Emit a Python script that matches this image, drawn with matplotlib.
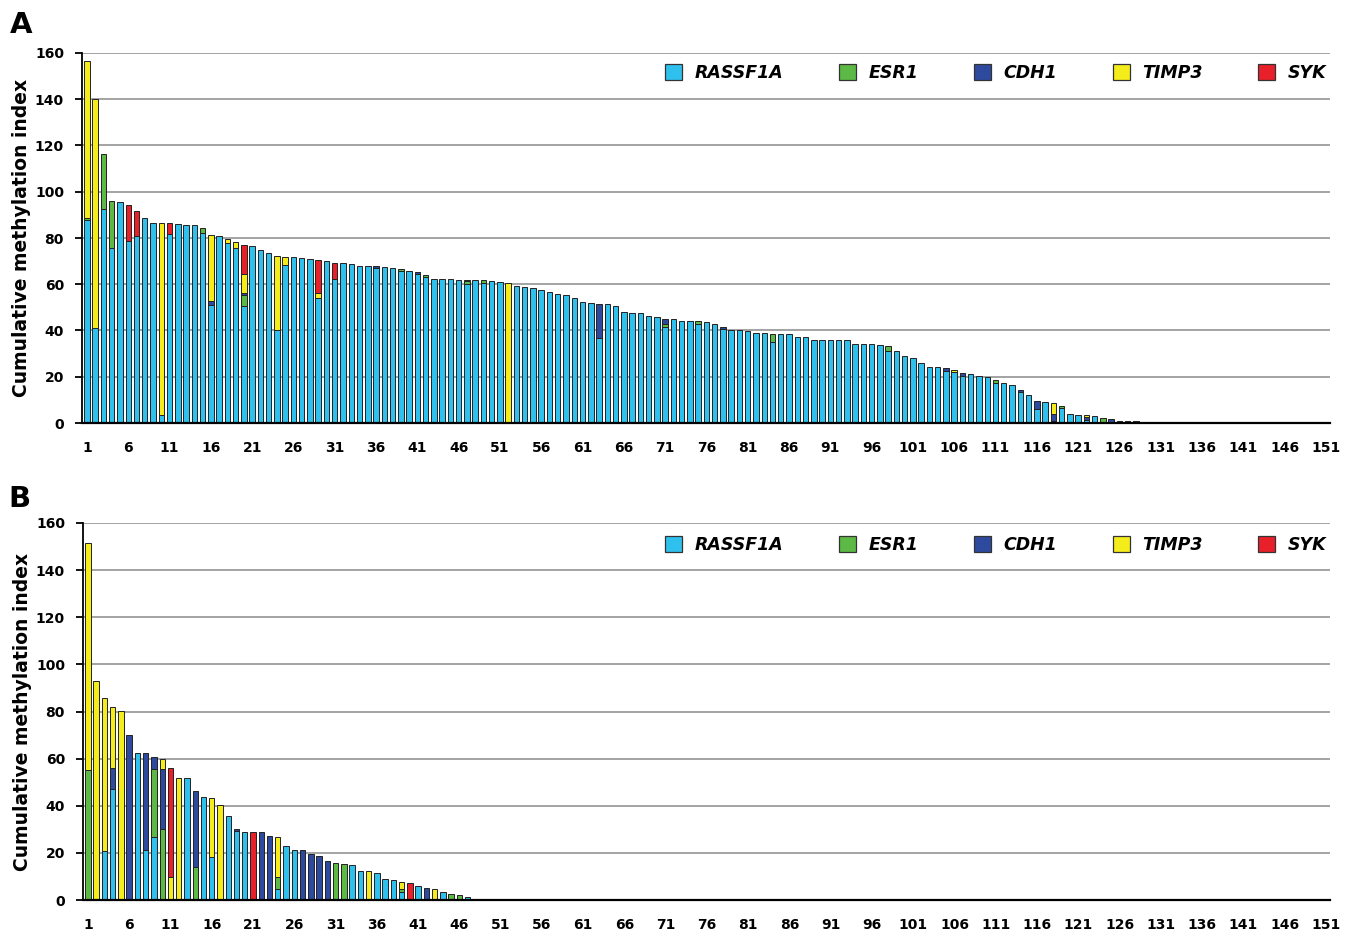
import numpy as np
import matplotlib
matplotlib.use("Agg")
import matplotlib.pyplot as plt
from matplotlib.patches import Patch

N = 151
genes = ["RASSF1A", "ESR1", "CDH1", "TIMP3", "SYK"]
colors = ["#30C0EE", "#5DB946", "#2E4A9E", "#F5EC1B", "#E8202A"]
x_ticks = list(range(1, 152, 5))
y_ticks = list(range(0, 161, 20))
panel_labels = ["A", "B"]
y_title = "Cumulative methylation index"

# ---------------- Panel A (samples 1..129, rest are 0) ----------------
a_rassf1a = [87.6, 41.0, 92.4, 75.8, 95.4, 78.7, 80.9, 88.8, 86.5, 3.6,
             81.6, 86.0, 85.6, 85.5, 82.0, 50.9, 81.0, 77.8, 75.8, 50.6,
             76.5, 74.7, 73.4, 40.4, 68.2, 71.7, 71.4, 70.8, 54.0, 69.9,
             62.4, 69.0, 68.6, 68.0, 67.9, 67.0, 67.3, 66.9, 65.7, 65.6,
             64.3, 63.1, 62.4, 62.4, 62.1, 61.9, 60.2, 61.7, 60.4, 61.3,
             61.1, 0.0, 59.4, 58.6, 58.4, 57.4, 56.7, 55.9, 55.3, 54.1,
             52.4, 51.9, 36.7, 51.4, 50.4, 48.0, 47.4, 47.5, 46.2, 46.0,
             41.6, 45.0, 44.3, 44.0, 42.6, 43.5, 42.9, 40.7, 40.1, 40.1,
             39.7, 39.0, 39.0, 35.2, 38.4, 38.4, 37.4, 37.4, 36.1, 35.8,
             35.8, 35.7, 35.7, 34.2, 34.1, 34.0, 33.8, 31.2, 31.2, 29.1,
             28.2, 25.9, 24.3, 24.0, 22.5, 22.0, 20.4, 21.3, 20.3, 20.0,
             17.5, 17.2, 16.6, 13.4, 12.1, 5.9, 8.9, 0.0, 6.4, 4.0,
             3.6, 1.5, 3.0, 0.0, 0.0, 0.0, 0.0, 0.0, 0.6]
a_esr1 = [1.2, 0, 24.0, 20.0, 0, 0, 0, 0, 0, 0,
          0, 0, 0, 0, 2.5, 0, 0, 0, 0, 4.6,
          0, 0, 0, 0, 0, 0, 0, 0, 0, 0,
          0, 0, 0, 0, 0, 0, 0, 0, 1.0, 0,
          0, 1.0, 0, 0, 0, 0, 1.0, 0, 1.3, 0,
          0, 0, 0, 0, 0, 0, 0, 0, 0, 0,
          0, 0, 0, 0, 0, 0, 0, 0, 0, 0,
          1.4, 0, 0, 0, 1.4, 0, 0, 0, 0, 0,
          0, 0, 0, 3.2, 0, 0, 0, 0, 0, 0,
          0, 0, 0, 0, 0, 0, 0, 2.3, 0, 0,
          0, 0, 0, 0, 0, 0, 0, 0, 0, 0,
          1.0, 0, 0, 0, 0, 0, 0, 1.0, 0.9, 0,
          0, 0, 0, 2.2, 0, 0, 0, 0, 0]
a_cdh1 = [0, 0, 0, 0, 0, 0, 0, 0, 0, 0,
          0, 0, 0, 0, 0, 1.9, 0, 0, 0, 1.2,
          0, 0, 0, 0, 0, 0, 0, 0, 0, 0,
          0, 0, 0, 0, 0, 0.7, 0, 0, 0, 0,
          0.8, 0, 0, 0, 0, 0, 0.7, 0, 0, 0,
          0, 0, 0, 0, 0, 0, 0, 0, 0, 0,
          0, 0, 14.7, 0, 0, 0, 0, 0, 0, 0,
          2.0, 0, 0, 0, 0, 0, 0, 0.6, 0, 0,
          0, 0, 0, 0, 0, 0, 0, 0, 0, 0,
          0, 0, 0, 0, 0, 0, 0, 0, 0, 0,
          0, 0, 0, 0, 1.2, 0, 1.2, 0, 0, 0,
          0, 0, 0, 1.0, 0, 3.7, 0, 3.0, 0, 0,
          0, 0.9, 0, 0, 1.9, 0.7, 0.7, 0.7, 0]
a_timp3 = [67.6, 99.1, 0, 0, 0, 0, 0, 0, 0, 82.9,
           0, 0, 0, 0, 0, 28.5, 0, 1.9, 2.5, 7.9,
           0, 0, 0, 31.7, 3.7, 0, 0, 0, 2.2, 0,
           0, 0, 0, 0, 0, 0, 0, 0, 0, 0,
           0, 0, 0, 0, 0, 0, 0, 0, 0, 0,
           0, 60.6, 0, 0, 0, 0, 0, 0, 0, 0,
           0, 0, 0, 0, 0, 0, 0, 0, 0, 0,
           0, 0, 0, 0, 0, 0, 0, 0, 0, 0,
           0, 0, 0, 0, 0, 0, 0, 0, 0, 0,
           0, 0, 0, 0, 0, 0, 0, 0, 0, 0,
           0, 0, 0, 0, 0, 1.0, 0, 0, 0, 0,
           0, 0, 0, 0, 0, 0, 0, 4.6, 0, 0,
           0, 1.0, 0, 0, 0, 0, 0, 0, 0]
a_syk = [0, 0, 0, 0, 0, 15.4, 10.6, 0, 0, 0,
         4.9, 0, 0, 0, 0, 0, 0, 0, 0, 12.8,
         0, 0, 0, 0, 0, 0, 0, 0, 14.4, 0,
         6.8]

# ---------------- Panel B (samples 1..49, rest are 0) ----------------
b_rassf1a = [0, 0, 20.8, 46.9, 0, 0, 62.5, 21.2, 26.6, 0,
             0, 0, 51.9, 0, 43.7, 18.1, 0, 35.5, 29.4, 29.0,
             0, 0, 0, 4.7, 22.9, 21.3, 0, 0, 0, 0,
             0, 0, 14.7, 12.5, 0, 11.4, 9.1, 8.5, 3.6, 0,
             5.8, 0, 0, 3.3, 0, 0, 1.1, 0, 0.4]
b_esr1 = [55.1, 0, 0, 0, 0, 0, 0, 0, 28.8, 30.0,
          0, 0, 0, 14.1, 0, 0, 0, 0, 0, 0,
          0, 0, 0, 5.2, 0, 0, 0, 0, 0, 0,
          15.8, 15.4, 0, 0, 0, 0, 0, 0, 1.2, 0,
          0, 0, 0, 0, 2.6, 2.1, 0, 0, 0]
b_cdh1 = [0, 0, 0, 9.2, 0, 70.2, 0, 41.3, 5.4, 25.4,
          0, 0, 0, 32.1, 0, 0, 0, 0, 0.7, 0,
          0, 28.8, 27.3, 0, 0, 0, 21.1, 19.6, 18.5, 16.5,
          0, 0, 0, 0, 0, 0, 0, 0, 0, 0,
          0, 5.1, 0, 0, 0, 0, 0, 0.6, 0]
b_timp3 = [96.6, 92.9, 65.0, 25.9, 80.4, 0, 0, 0, 0, 4.4,
           9.9, 51.9, 0, 0, 0, 25.3, 40.4, 0, 0, 0,
           0, 0, 0, 16.8, 0, 0, 0, 0, 0, 0,
           0, 0, 0, 0, 12.5, 0, 0, 0, 2.9, 0,
           0, 0, 4.8, 0, 0, 0, 0, 0, 0]
b_syk = [0, 0, 0, 0, 0, 0, 0, 0, 0, 0,
         46.2, 0, 0, 0, 0, 0, 0, 0, 0, 0,
         28.9, 0, 0, 0, 0, 0, 0, 0, 0, 0,
         0, 0, 0, 0, 0, 0, 0, 0, 0, 7.1]


def pad(v):
    v = np.asarray(v, dtype=float)
    return np.concatenate([v, np.zeros(N - len(v))])


W, H = 1352, 930
fig = plt.figure(figsize=(W / 100, H / 100), dpi=100)
axA = fig.add_axes([82 / W, 1 - 423 / H, 1248 / W, 370 / H])
axB = fig.add_axes([83 / W, 1 - 900 / H, 1247 / W, 377 / H])

FONT = "DejaVu Sans"


def draw(ax, series, legend_y):
    x = np.arange(1, N + 1)
    bottom = np.zeros(N)
    for vals, c in zip(series, colors):
        v = pad(vals)
        m = v > 0
        ax.bar(x[m], v[m], bottom=bottom[m], width=0.66, color=c,
               edgecolor="#222222", linewidth=0.7, zorder=3)
        bottom += v
    ax.set_xlim(0.4, 151.5)
    ax.set_ylim(0, 160)
    ax.set_yticks(y_ticks)
    ax.set_xticks(x_ticks)
    ax.yaxis.grid(True, color="#8a8a8a", linewidth=1.1, zorder=0)
    ax.set_axisbelow(True)
    for s in ["top", "right"]:
        ax.spines[s].set_visible(False)
    ax.spines["left"].set_linewidth(1.3)
    ax.spines["bottom"].set_linewidth(1.6)
    ax.spines["bottom"].set_zorder(5)
    ax.tick_params(axis="x", length=0, pad=13)
    ax.tick_params(axis="y", length=5, width=1.3, direction="out", pad=8)
    for lab in ax.get_xticklabels() + ax.get_yticklabels():
        lab.set_fontweight("bold")
        lab.set_fontsize(10)
        lab.set_family(FONT)
    ax.set_ylabel(y_title, fontsize=13.5, fontweight="bold", family=FONT)
    ax.yaxis.set_label_coords(-(82 - 31) / 1248, 0.5)
    handles = [Patch(facecolor=c, edgecolor="#333333", linewidth=0.9) for c in colors]
    ax.legend(handles, genes, ncol=5, frameon=False, loc="center right",
              bbox_to_anchor=(0.997, legend_y), borderaxespad=0, borderpad=0,
              handlelength=1.0, handleheight=1.0, handletextpad=0.7,
              columnspacing=3.2,
              prop={"family": FONT, "weight": "bold", "style": "italic", "size": 12.5})


draw(axA, [a_rassf1a, a_esr1, a_cdh1, a_timp3, a_syk], (423 - 73) / 370)
draw(axB, [b_rassf1a, b_esr1, b_cdh1, b_timp3, b_syk], (900 - 545) / 377)

fig.text(10 / W, 1 - 33 / H, panel_labels[0], fontsize=21, fontweight="bold",
         family=FONT, va="baseline")
fig.text(8 / W, 1 - 507 / H, panel_labels[1], fontsize=21, fontweight="bold",
         family=FONT, va="baseline")

fig.savefig("out.png", dpi=100)
